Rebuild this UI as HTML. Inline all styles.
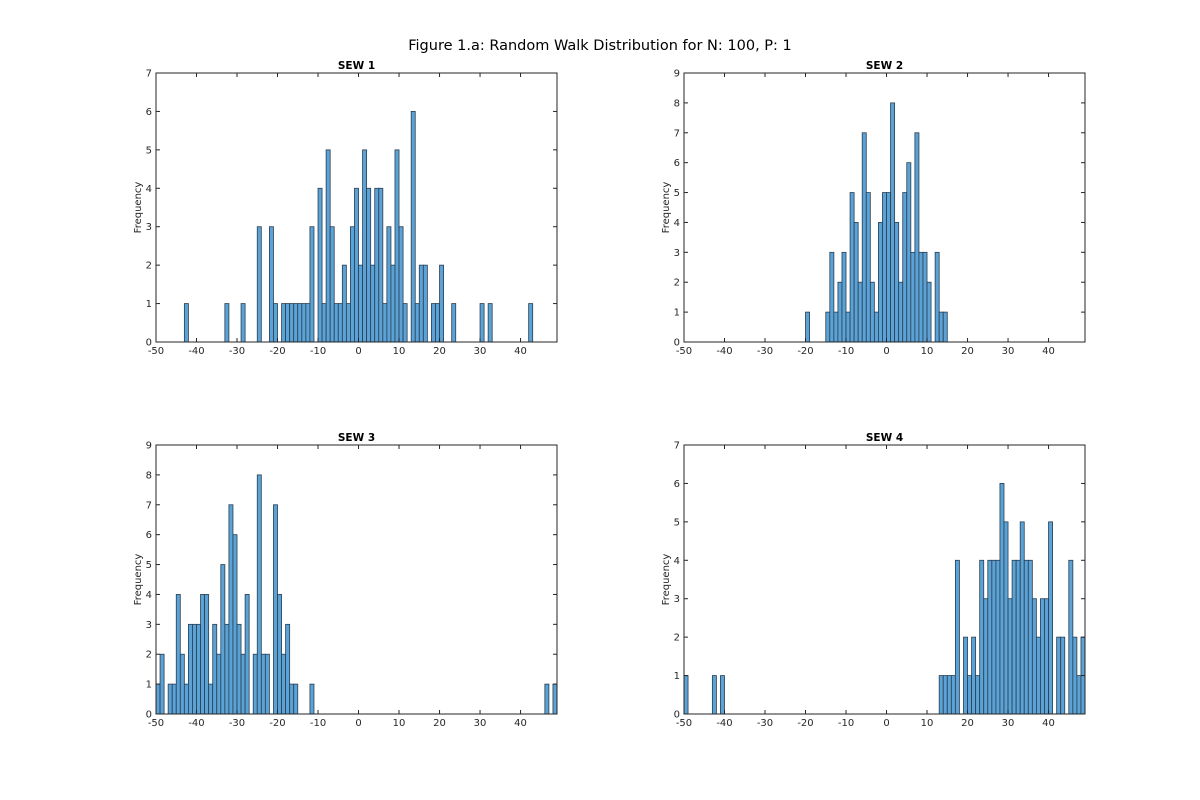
<!DOCTYPE html>
<html><head><meta charset="utf-8"><style>
body{margin:0;background:#fff;}
svg{display:block;font-family:"DejaVu Sans","Liberation Sans",sans-serif;}
</style></head><body>
<svg id="fig" width="1200" height="800">
<rect width="1200" height="800" fill="#fff"/>
<text x="600" y="50" font-size="14.5" text-anchor="middle" fill="#000">Figure 1.a: Random Walk Distribution for N: 100, P: 1</text>
</svg>
<script>
const binsSew1=[-43,-33,-29,-25,-22,-21,-19,-18,-17,-16,-15,-14,-13,-12,-10,-9,-8,-7,-6,-5,-4,-3,-2,-1,0,1,2,3,4,5,6,7,8,9,10,11,13,14,15,16,18,19,20,23,30,32,42];
const countsSew1=[1,1,1,3,3,1,1,1,1,1,1,1,1,3,4,1,5,3,1,1,2,1,3,4,2,5,4,2,4,4,1,3,2,5,3,1,6,1,2,2,1,1,2,1,1,1,1];
const binsSew2=[-20,-15,-14,-13,-12,-11,-10,-9,-8,-7,-6,-5,-4,-3,-2,-1,0,1,2,3,4,5,6,7,8,9,10,12,13,14];
const countsSew2=[1,1,3,1,2,3,1,5,4,2,7,5,2,1,4,5,5,8,4,2,5,6,3,7,3,3,2,3,1,1];
const binsSew3=[-50,-49,-47,-46,-45,-44,-43,-42,-41,-40,-39,-38,-37,-36,-35,-34,-33,-32,-31,-30,-29,-28,-26,-25,-24,-23,-21,-20,-19,-18,-17,-16,-12,46,48];
const countsSew3=[1,2,1,1,4,2,1,3,3,3,4,4,1,3,2,5,3,7,6,3,2,4,2,8,2,2,7,4,2,3,1,1,1,1,1];
const binsSew4=[-50,-43,-41,13,14,15,16,17,19,20,21,22,23,24,25,26,27,28,29,30,31,32,33,34,35,36,37,38,39,40,42,43,45,46,47,48];
const countsSew4=[1,1,1,1,1,1,1,4,2,1,2,1,4,3,4,4,4,6,5,3,4,4,5,4,4,3,2,3,3,5,2,2,4,2,1,2];
const xTicks=[-50,-40,-30,-20,-10,0,10,20,30,40];
const titles=["SEW 1","SEW 2","SEW 3","SEW 4"];
const yMaxes=[7,9,9,7];
const panels=[
 {bins:binsSew1,counts:countsSew1,x0:156,y0:73},
 {bins:binsSew2,counts:countsSew2,x0:684,y0:73},
 {bins:binsSew3,counts:countsSew3,x0:156,y0:445},
 {bins:binsSew4,counts:countsSew4,x0:684,y0:445}];
const NS="http://www.w3.org/2000/svg";
const svg=document.getElementById('fig');
function mk(t,a,p){const e=document.createElementNS(NS,t);for(const k in a)e.setAttribute(k,a[k]);(p||svg).appendChild(e);return e;}
const W=401,H=269,XMIN=-50,XMAX=49;
panels.forEach((p,i)=>{
 const g=mk('g',{});
 
 
 const ymax=yMaxes[i];
 const sx=v=>p.x0+(v-XMIN)/(XMAX-XMIN)*W;
 const sy=v=>p.y0+H-v/ymax*H;
 mk('rect',{x:p.x0,y:p.y0,width:W,height:H,fill:'#fff'},g);
 p.bins.forEach((b,j)=>{
  const r=mk('rect',{x:sx(b),y:sy(p.counts[j]),width:sx(b+1)-sx(b),height:sy(0)-sy(p.counts[j]),fill:'#5ba3d6',stroke:'#2a3e50','stroke-width':0.8},g);
  
  
 });
 mk('rect',{x:p.x0,y:p.y0,width:W,height:H,fill:'none',stroke:'#262626','stroke-width':1},g);
 xTicks.forEach(t=>{
  const x=sx(t);
  mk('line',{x1:x,x2:x,y1:p.y0+H,y2:p.y0+H-4,stroke:'#262626'},g);
  mk('line',{x1:x,x2:x,y1:p.y0,y2:p.y0+4,stroke:'#262626'},g);
  const tx=mk('text',{x:x,y:p.y0+H+12,'font-size':10,'text-anchor':'middle',fill:'#262626'},g);
  tx.textContent=t;
  
  
 });
 for(let v=0;v<=ymax;v++){
  const y=sy(v);
  mk('line',{x1:p.x0,x2:p.x0+4,y1:y,y2:y,stroke:'#262626'},g);
  mk('line',{x1:p.x0+W,x2:p.x0+W-4,y1:y,y2:y,stroke:'#262626'},g);
  const tx=mk('text',{x:p.x0-4,y:y+3.5,'font-size':10,'text-anchor':'end',fill:'#262626'},g);
  tx.textContent=v;
  
  
 }
 const yl=mk('text',{x:0,y:0,'font-size':10,'text-anchor':'middle',fill:'#262626',transform:`translate(${p.x0-15},${p.y0+H/2}) rotate(-90)`},g);
 yl.textContent='Frequency';
 
 
 const tt=mk('text',{x:p.x0+W/2,y:p.y0-4,'font-size':10.5,'font-weight':'bold','text-anchor':'middle',fill:'#000'},g);
 tt.textContent=titles[i];
 
 
});
</script>
</body></html>
